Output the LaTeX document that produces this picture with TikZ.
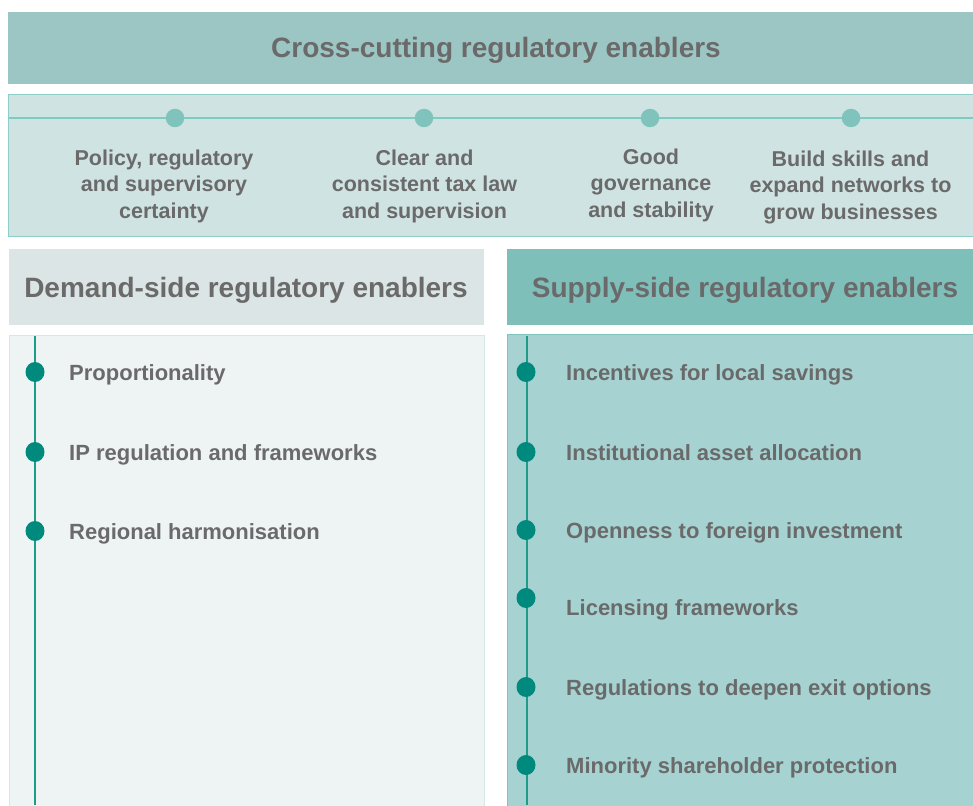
\documentclass[tikz,border=0pt]{standalone}
\usepackage{fontspec}
\setmainfont{Liberation Sans}
\definecolor{txtgray}{HTML}{6B6A6A}
\definecolor{ccband}{HTML}{9CC6C4}
\definecolor{ccpanel}{HTML}{CFE3E2}
\definecolor{ccedge}{HTML}{8DCFC8}
\definecolor{ccline}{HTML}{7ECBC3}
\definecolor{ccdot}{HTML}{80C3BD}
\definecolor{dmhead}{HTML}{DCE5E6}
\definecolor{dmpanel}{HTML}{EEF4F4}
\definecolor{dmedge}{HTML}{D6E7E6}
\definecolor{sphead}{HTML}{7FBFBA}
\definecolor{sppanel}{HTML}{A6D3D2}
\definecolor{spedge}{HTML}{80C4BE}
\definecolor{tline}{HTML}{1E9C89}
\definecolor{tdot}{HTML}{008A7E}
\tikzset{
  headtext/.style={text=txtgray, font=\bfseries\fontsize{28}{33}\selectfont, inner sep=0pt},
  cctext/.style={text=txtgray, font=\bfseries\fontsize{21.5}{26.5}\selectfont, align=center, inner sep=0pt},
  itemtext/.style={text=txtgray, font=\bfseries\fontsize{22}{26}\selectfont, anchor=west, inner sep=0pt, text height=15.5pt, text depth=4.5pt},
  ccmark/.style={circle, fill=ccdot, inner sep=0pt, minimum size=18.5pt},
  tmark/.style={ellipse, fill=tdot, inner sep=0pt, minimum width=19pt, minimum height=20pt},
}
\usetikzlibrary{shapes.geometric}
\begin{document}
\begin{tikzpicture}[x=1pt,y=-1pt]
\useasboundingbox[fill=white] (0,0) rectangle (973,805);

% cross-cutting block
\fill[ccband] (8,12) rectangle (973,84);
\node[headtext] (cchead) at (496,50.5) {Cross-cutting regulatory enablers};
\draw[ccedge, fill=ccpanel, line width=0.8pt] (8.5,94) rectangle (980,236);
\coordinate (ccL) at (8.5,118);
\coordinate (ccR) at (973,118);
\draw[ccline, line width=1.2pt] (ccL) -- (ccR);
\node[ccmark] (c1) at (175,118) {};
\node[ccmark] (c2) at (424,118) {};
\node[ccmark] (c3) at (650,118) {};
\node[ccmark] (c4) at (851,118) {};
\node[cctext] (t1) at (164,186) {Policy, regulatory\\and supervisory\\certainty};
\node[cctext] (t2) at (424.5,186) {Clear and\\consistent tax law\\and supervision};
\node[cctext] (t3) at (651,185) {Good\\governance\\and stability};
\node[cctext] (t4) at (850.5,187) {Build skills and\\expand networks to\\grow businesses};

% demand side
\fill[dmhead] (9,249) rectangle (484,325);
\node[headtext] (dmtitle) at (246,290.5) {Demand-side regulatory enablers};
\draw[dmedge, fill=dmpanel, line width=0.8pt] (9.5,335) rectangle (484,812);
\coordinate (dmtop) at (35,336);
\coordinate (dmbot) at (35,805);
\draw[tline, line width=1.3pt] (dmtop) -- (dmbot);
\node[tmark] (d1) at (35,372) {};
\node[tmark] (d2) at (35,452) {};
\node[tmark] (d3) at (35,531) {};
\node[itemtext] (dt1) at (69,374.5) {Proportionality};
\node[itemtext] (dt2) at (69,454.5) {IP regulation and frameworks};
\node[itemtext] (dt3) at (69,533.5) {Regional harmonisation};

% supply side
\fill[sphead] (507,249) rectangle (973,325);
\node[headtext] (sptitle) at (745,290.5) {Supply-side regulatory enablers};
\draw[spedge, fill=sppanel, line width=0.8pt] (507.5,334) rectangle (980,812);
\coordinate (sptop) at (527,336);
\coordinate (spbot) at (527,805);
\draw[tline, line width=1.3pt] (sptop) -- (spbot);
\node[tmark] (s1) at (526,372) {};
\node[tmark] (s2) at (526,452) {};
\node[tmark] (s3) at (526,530) {};
\node[tmark] (s4) at (526,598) {};
\node[tmark] (s5) at (526,687) {};
\node[tmark] (s6) at (526,765) {};
\node[itemtext] (st1) at (566,374.5) {Incentives for local savings};
\node[itemtext] (st2) at (566,454.5) {Institutional asset allocation};
\node[itemtext] (st3) at (566,532.5) {Openness to foreign investment};
\node[itemtext] (st4) at (566,609.5) {Licensing frameworks};
\node[itemtext] (st5) at (566,689.5) {Regulations to deepen exit options};
\node[itemtext] (st6) at (566,767.5) {Minority shareholder protection};
\end{tikzpicture}
\end{document}
